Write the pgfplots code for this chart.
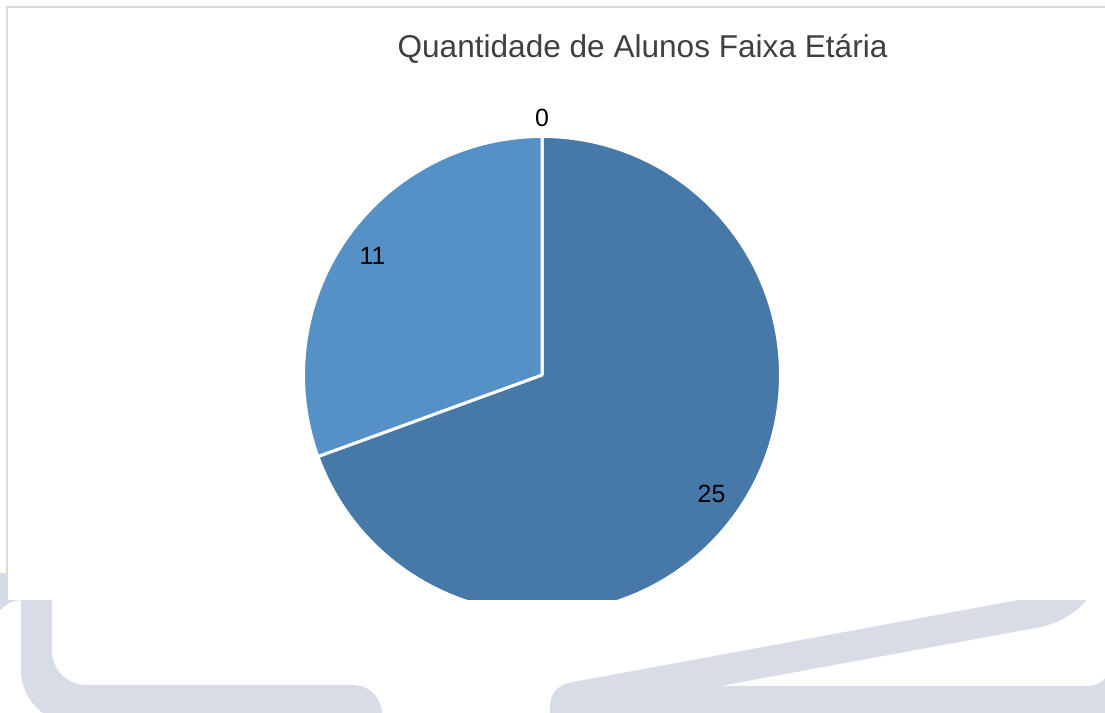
\documentclass[border=0pt]{standalone}
\usepackage{pgfplots}
\pgfplotsset{compat=1.18}
\usetikzlibrary{calc}
\usepackage{fontspec}
\setmainfont{Liberation Sans}
\definecolor{deco}{HTML}{D8DCE6}
\definecolor{sliceA}{HTML}{4679A8}
\definecolor{sliceB}{HTML}{5591C7}
\definecolor{sliceC}{HTML}{A5A5A5}
\definecolor{framec}{HTML}{D9D9D9}
\definecolor{titlec}{HTML}{404040}
% slice values (order as drawn clockwise from 12 o'clock)
\def\valA{25}
\def\valB{11}
\def\valC{0}
\pgfmathsetmacro\total{\valA+\valB+\valC}
\pgfmathsetmacro\aStart{90}
\pgfmathsetmacro\aEnd{90-360*\valA/\total}
\pgfmathsetmacro\bEnd{\aEnd-360*\valB/\total}
\pgfmathsetmacro\cEnd{\bEnd-360*\valC/\total}
\pgfmathsetmacro\midA{(\aStart+\aEnd)/2}
\pgfmathsetmacro\midB{(\aEnd+\bEnd)/2}
\pgfmathsetmacro\midC{(\bEnd+\cEnd)/2}
\begin{document}
\begin{tikzpicture}[x=1bp,y=1bp]
\useasboundingbox (0,0) rectangle (1105,713);
\clip (0,0) rectangle (1105,713);
\begin{axis}[at={(0,0)}, anchor=south west, scale only axis,
  width=1105bp, height=713bp, xmin=0, xmax=1105, ymin=0, ymax=713,
  hide axis, clip=false]
% background decoration
\fill[deco] (21,153) -- (21,43) arc[start angle=180,end angle=270,radius=53bp]
  -- (382,-10) -- (382,-1) arc[start angle=0,end angle=90,radius=29bp]
  -- (86,28) arc[start angle=270,end angle=180,radius=34bp] -- (52,153) -- cycle;
\fill[deco] (0,140) -- (21,140) -- (21,113) .. controls (10,111) .. (0,103) -- cycle;
\fill[deco] (550,-10) -- (550,5) .. controls (550,21) and (558,28) .. (573,31)
  -- (1040,117) -- (1095,128) .. controls (1085,103) and (1060,88) .. (1030,84)
  -- (720,27) -- (1087,27) .. controls (1097,27) and (1103,31) .. (1110,41)
  -- (1110,-10) -- cycle;
% chart panel
\fill[white] (6.7,113) rectangle (1110,705.7);
\draw[framec, line width=2bp] (6.7,113) -- (6.7,705.7) -- (1110,705.7);
% pie
\begin{scope}
\clip (6.7,113) rectangle (1110,705.7);
\filldraw[fill=sliceA, draw=white, line width=3bp, line join=round] (542,338) -- ++(\aStart:238.5bp)
  arc[start angle=\aStart, end angle=\aEnd, radius=238.5bp] -- cycle;
\filldraw[fill=sliceB, draw=white, line width=3bp, line join=round] (542,338) -- ++(\aEnd:238.5bp)
  arc[start angle=\aEnd, end angle=\bEnd, radius=238.5bp] -- cycle;
\end{scope}
% data labels
\node[font=\fontsize{25}{30}\selectfont, text=black] at ($(542,338)+(\midA:207bp)$) {\valA};
\node[font=\fontsize{25}{30}\selectfont, text=black] at ($(542,338)+(\midB:207bp)$) {\valB};
\node[font=\fontsize{25}{30}\selectfont, text=black] at ($(542,338)+(\midC:257bp)$) {\valC};
% title
\node[anchor=base, font=\fontsize{31.7}{38}\selectfont, text=titlec] at (642.5,655) {Quantidade de Alunos Faixa Etária};
\end{axis}
\end{tikzpicture}
\end{document}
